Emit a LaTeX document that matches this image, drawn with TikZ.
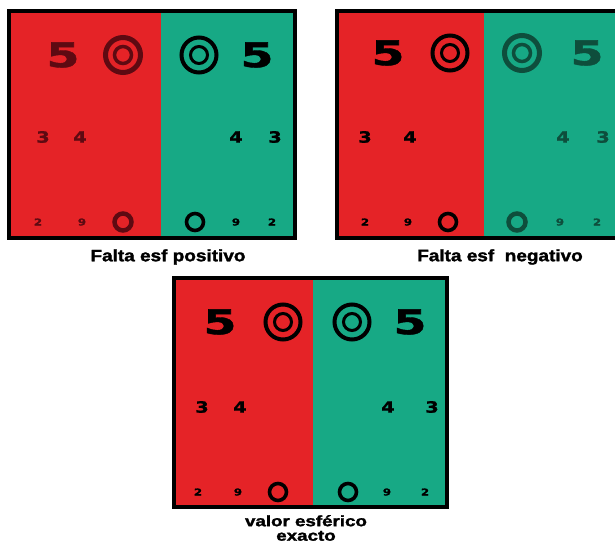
\documentclass[tikz,border=0pt]{standalone}
\usepackage{fontspec}
\setmainfont{Liberation Sans}[BoldFeatures={FakeBold=1.6}]
\newfontfamily\digfont{DejaVu Sans}[BoldFeatures={FakeBold=1.2}]
\definecolor{cred}{HTML}{E52327}
\definecolor{cgreen}{HTML}{17A985}
\definecolor{blurred}{HTML}{5E0A12}
\definecolor{blurgreen}{HTML}{0E4E3C}
\begin{document}
\begin{tikzpicture}[x=1pt,y=-1pt,
  frame/.style={line width=3.5pt, draw=black},
  bigd/.style={inner sep=0, font=\digfont\bfseries\fontsize{34}{34}\selectfont},
  midd/.style={inner sep=0, font=\digfont\bfseries\fontsize{15.5}{15.5}\selectfont},
  smalld/.style={inner sep=0, font=\digfont\bfseries\fontsize{9.5}{9.5}\selectfont},
  outring/.style={circle, draw, line width=4pt, minimum size=35pt, inner sep=0},
  inring/.style={circle, draw, line width=3pt, minimum size=17pt, inner sep=0},
  smring/.style={circle, draw, line width=3.6pt, minimum size=17pt, inner sep=0},
  lab/.style={inner sep=0, font=\bfseries\fontsize{16.5}{13}\selectfont},
  lab2/.style={inner sep=0, align=center, font=\bfseries\fontsize{15}{14.5}\selectfont}
]
\useasboundingbox (0,0) rectangle (615,545);
\fill[white] (0,0) rectangle (615,545);
% ---------- Panel 1 ----------
\fill[cred] (9,11) rectangle (161,238);
\fill[cgreen] (161,11) rectangle (295,238);
\draw[frame] (9,11) rectangle (295,238);
\node[bigd, text=blurred] (p1a) at (63,55) {\scalebox{1.4}[1]{5}};
\node[outring, draw=blurred, line width=5pt] (p1b) at (123,55) {};
\node[inring, draw=blurred, line width=3.5pt] (p1c) at (p1b) {};
\node[outring] (p1d) at (199,55) {};
\node[inring] (p1e) at (p1d) {};
\node[bigd] (p1f) at (257,55) {\scalebox{1.4}[1]{5}};
\node[midd, text=blurred] (p1g) at (43,137) {\scalebox{1.25}[1]{3}};
\node[midd, text=blurred] (p1h) at (80,137) {\scalebox{1.25}[1]{4}};
\node[midd] (p1i) at (236,137) {\scalebox{1.25}[1]{4}};
\node[midd] (p1j) at (275,137) {\scalebox{1.25}[1]{3}};
\node[smalld, text=blurred] (p1k) at (38,222) {\scalebox{1.25}[1]{2}};
\node[smalld, text=blurred] (p1l) at (82,222) {\scalebox{1.25}[1]{9}};
\node[smring, draw=blurred, line width=4.5pt] (p1m) at (123,222) {};
\node[smring] (p1n) at (195,222) {};
\node[smalld] (p1o) at (236,222) {\scalebox{1.25}[1]{9}};
\node[smalld] (p1p) at (272,222) {\scalebox{1.25}[1]{2}};
\node[lab] (l1) at (168,257) {\scalebox{1.15}[1]{Falta esf positivo}};
% ---------- Panel 2 ----------
\fill[cred] (337,11) rectangle (484,238);
\fill[cgreen] (484,11) rectangle (615,238);
\draw[frame] (615,11) -- (337,11) -- (337,238) -- (615,238);
\node[bigd] (p2a) at (388,53) {\scalebox{1.4}[1]{5}};
\node[outring] (p2b) at (450,53) {};
\node[inring] (p2c) at (p2b) {};
\node[outring, draw=blurgreen, line width=5pt] (p2d) at (522,53) {};
\node[inring, draw=blurgreen, line width=3.5pt] (p2e) at (p2d) {};
\node[bigd, text=blurgreen] (p2f) at (587,53) {\scalebox{1.4}[1]{5}};
\node[midd] (p2g) at (365,137) {\scalebox{1.25}[1]{3}};
\node[midd] (p2h) at (410,137) {\scalebox{1.25}[1]{4}};
\node[midd, text=blurgreen] (p2i) at (563,137) {\scalebox{1.25}[1]{4}};
\node[midd, text=blurgreen] (p2j) at (603,137) {\scalebox{1.25}[1]{3}};
\node[smalld] (p2k) at (365,222) {\scalebox{1.25}[1]{2}};
\node[smalld] (p2l) at (408,222) {\scalebox{1.25}[1]{9}};
\node[smring] (p2m) at (448,222) {};
\node[smring, draw=blurgreen, line width=4.5pt] (p2n) at (517,222) {};
\node[smalld, text=blurgreen] (p2o) at (560,222) {\scalebox{1.25}[1]{9}};
\node[smalld, text=blurgreen] (p2p) at (597,222) {\scalebox{1.25}[1]{2}};
\node[lab] (l2) at (500,257) {\scalebox{1.15}[1]{Falta esf~ negativo}};
% ---------- Panel 3 ----------
\fill[cred] (174,278) rectangle (313,507);
\fill[cgreen] (313,278) rectangle (447,507);
\draw[frame] (174,278) rectangle (447,507);
\node[bigd] (p3a) at (220,322) {\scalebox{1.4}[1]{5}};
\node[outring] (p3b) at (283,322) {};
\node[inring] (p3c) at (p3b) {};
\node[outring] (p3d) at (352,322) {};
\node[inring] (p3e) at (p3d) {};
\node[bigd] (p3f) at (410,322) {\scalebox{1.4}[1]{5}};
\node[midd] (p3g) at (202,407) {\scalebox{1.25}[1]{3}};
\node[midd] (p3h) at (240,407) {\scalebox{1.25}[1]{4}};
\node[midd] (p3i) at (388,407) {\scalebox{1.25}[1]{4}};
\node[midd] (p3j) at (432,407) {\scalebox{1.25}[1]{3}};
\node[smalld] (p3k) at (198,492) {\scalebox{1.25}[1]{2}};
\node[smalld] (p3l) at (238,492) {\scalebox{1.25}[1]{9}};
\node[smring] (p3m) at (278,492) {};
\node[smring] (p3n) at (348,492) {};
\node[smalld] (p3o) at (387,492) {\scalebox{1.25}[1]{9}};
\node[smalld] (p3p) at (425,492) {\scalebox{1.25}[1]{2}};
\node[lab2, anchor=north] (l3) at (306,515) {\scalebox{1.25}[1]{valor esférico}\\\scalebox{1.25}[1]{exacto}};
\end{tikzpicture}
\end{document}
